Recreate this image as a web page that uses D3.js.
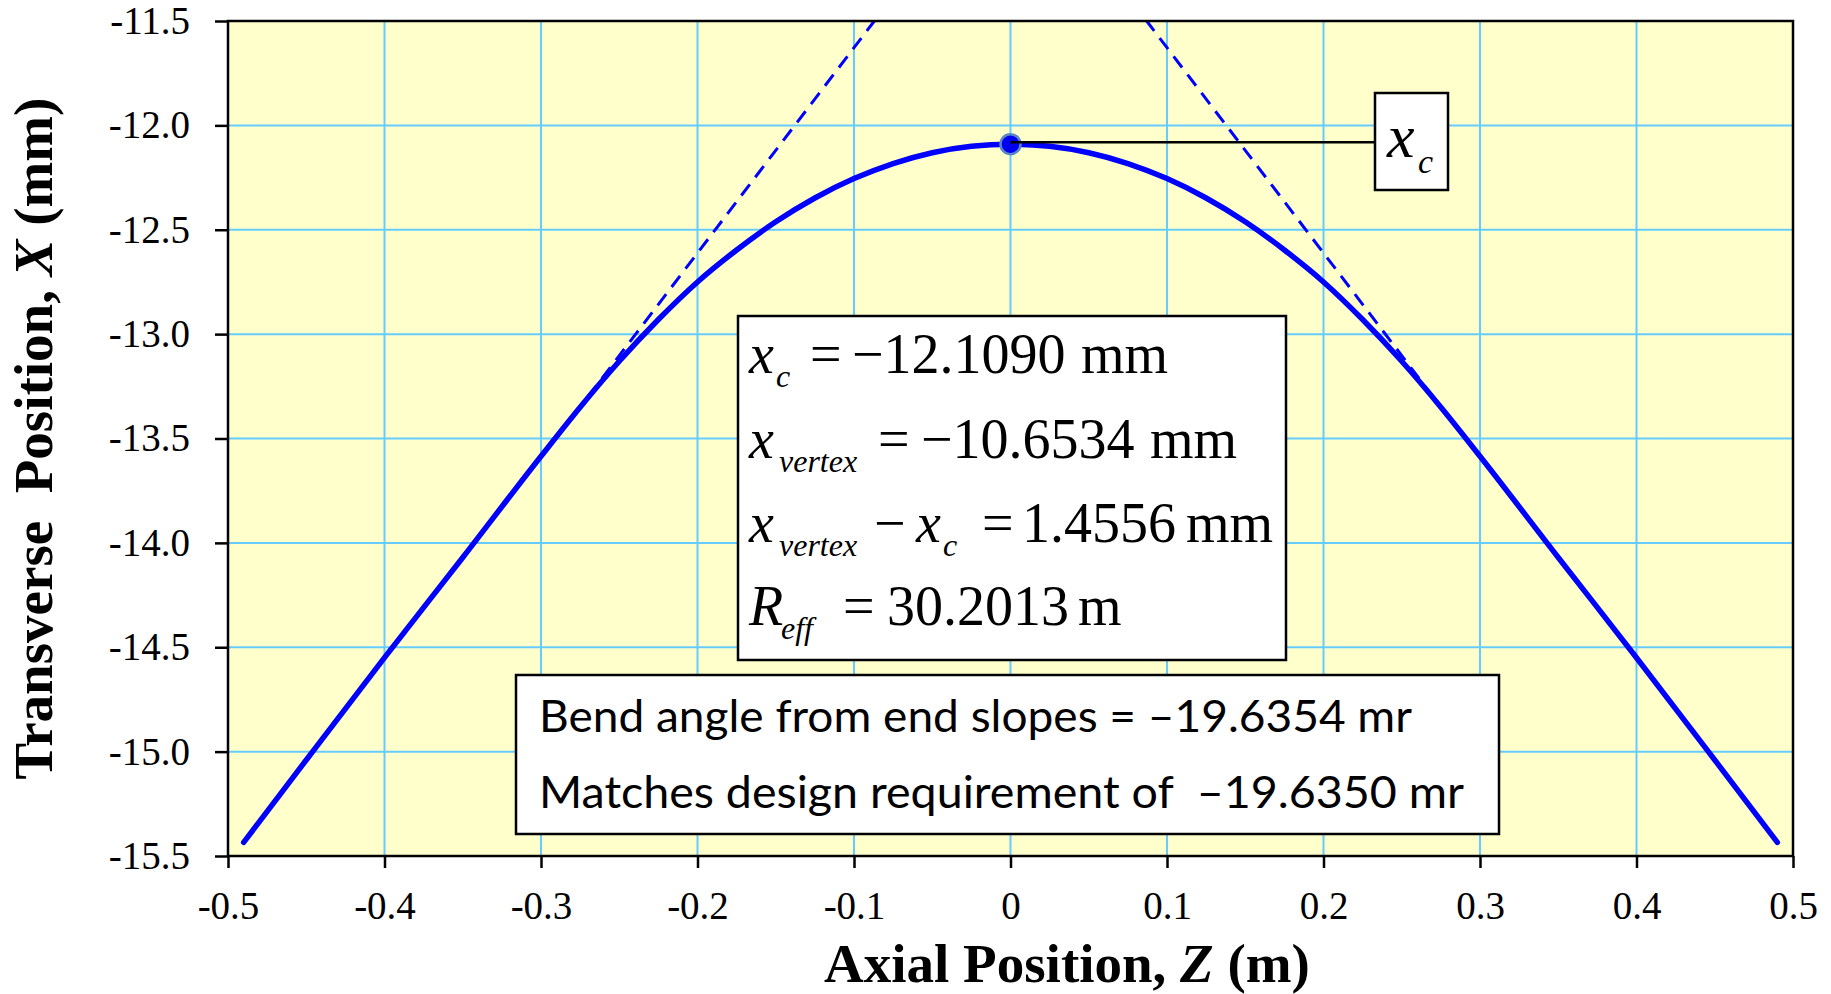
<!DOCTYPE html>
<html>
<head>
<meta charset="utf-8">
<script src="https://cdn.jsdelivr.net/npm/d3@7"></script>
<style>
  body { margin: 0; background: #fff; }
  svg { display: block; }
</style>
</head>
<body>
<svg id="chart" width="1831" height="994"></svg>
<script>
// axis ticks
const zTicks = [-0.5, -0.4, -0.3, -0.2, -0.1, 0, 0.1, 0.2, 0.3, 0.4, 0.5];
const xTicks = [-11.5, -12.0, -12.5, -13.0, -13.5, -14.0, -14.5, -15.0, -15.5];

// trajectory (z in m, x in mm)
const trajZ = [-0.49, -0.45, -0.40, -0.35, -0.30, -0.275, -0.25, -0.225, -0.20, -0.175, -0.15, -0.125, -0.10, -0.075, -0.05, -0.025,
  0, 0.025, 0.05, 0.075, 0.10, 0.125, 0.15, 0.175, 0.20, 0.225, 0.25, 0.275, 0.30, 0.35, 0.40, 0.45, 0.49];
const trajX = [-15.435, -15.04, -14.55, -14.07, -13.585, -13.35, -13.13, -12.93, -12.75, -12.597, -12.462, -12.348, -12.255, -12.183, -12.131, -12.100,
  -12.090, -12.100, -12.131, -12.183, -12.255, -12.348, -12.462, -12.597, -12.75, -12.93, -13.13, -13.35, -13.585, -14.07, -14.55, -15.04, -15.435];

// end-slope tangent lines (dashed)
const tangentLeft = [[-0.27, -13.30], [-0.087, -11.5]];
const tangentRight = [[0.27, -13.30], [0.087, -11.5]];

// x_c marker
const markerPoint = [0, -12.09];

const margin = { top: 21, right: 38, bottom: 138, left: 228 };
const W = 1831, H = 994;
const width = W - margin.left - margin.right;
const height = H - margin.top - margin.bottom;

const svg = d3.select("#chart");
const g = svg.append("g").attr("transform", `translate(${margin.left},${margin.top})`);

const x = d3.scaleLinear().domain([-0.5, 0.5]).range([0, width]);
const y = d3.scaleLinear().domain([-15.5, -11.5]).range([height, 0]);

const serif = "'Liberation Serif', 'Times New Roman', Times, serif";

// background
g.append("rect").attr("width", width).attr("height", height).attr("fill", "#ffffcc");

// grid
g.append("g").selectAll("line").data(zTicks).join("line")
  .attr("x1", d => x(d)).attr("x2", d => x(d))
  .attr("y1", 0).attr("y2", height)
  .attr("stroke", "#66ccff").attr("stroke-width", 2);
g.append("g").selectAll("line").data(xTicks).join("line")
  .attr("x1", 0).attr("x2", width)
  .attr("y1", d => y(d)).attr("y2", d => y(d))
  .attr("stroke", "#66ccff").attr("stroke-width", 2);

// trajectory
const pts = trajZ.map((z, i) => [z, trajX[i]]);
const line = d3.line().x(d => x(d[0])).y(d => y(d[1])).curve(d3.curveMonotoneX);
g.append("path").datum(pts).attr("d", line)
  .attr("fill", "none").attr("stroke", "#0000ff").attr("stroke-width", 5.5)
  .attr("stroke-linecap", "round").attr("stroke-linejoin", "round");

// tangents
const straight = d3.line().x(d => x(d[0])).y(d => y(d[1]));
[tangentLeft, tangentRight].forEach(t => {
  g.append("path").datum(t).attr("d", straight)
    .attr("fill", "none").attr("stroke", "#0000ff").attr("stroke-width", 3)
    .attr("stroke-dasharray", "14,9");
});

// axes
const yAxis = d3.axisLeft(y).tickValues(xTicks).tickSize(13).tickPadding(25);
const xAxis = d3.axisBottom(x).tickValues(zTicks).tickSize(12).tickPadding(23);

const ya = g.append("g").call(yAxis);
const xa = g.append("g").attr("transform", `translate(0,${height})`).call(xAxis);
[ya, xa].forEach(a => {
  a.select(".domain").remove();
  a.selectAll(".tick line").attr("stroke", "#000").attr("stroke-width", 2.5);
  a.selectAll(".tick text").attr("fill", "#000")
    .style("font-family", serif).style("font-size", "39px");
});
ya.selectAll(".tick text").text(d => d.toFixed(1));
xa.selectAll(".tick text").text(d => d === 0 ? "0" : d.toFixed(1));

// plot frame
g.append("rect").attr("width", width).attr("height", height)
  .attr("fill", "none").attr("stroke", "#000").attr("stroke-width", 2.5);

// marker + leader
const mx = x(markerPoint[0]), my = y(markerPoint[1]);
g.append("circle").attr("cx", mx).attr("cy", my).attr("r", 10)
  .attr("fill", "#0000ee").attr("stroke", "#5a86c8").attr("stroke-width", 2.5);
const lblBox = { x: 1375 - margin.left, y: 93 - margin.top, w: 73, h: 97 };
g.append("line").attr("x1", mx).attr("x2", lblBox.x).attr("y1", my - 2).attr("y2", my - 2)
  .attr("stroke", "#000").attr("stroke-width", 2.5);
g.append("rect").attr("x", lblBox.x).attr("y", lblBox.y).attr("width", lblBox.w).attr("height", lblBox.h)
  .attr("fill", "#fff").attr("stroke", "#000").attr("stroke-width", 2.5);

// text pieces helper (absolute svg coords)
function piece(px, py, str, size, italic) {
  svg.append("text").attr("x", px).attr("y", py).text(str)
    .style("font-family", serif).style("font-size", size + "px")
    .style("font-style", italic ? "italic" : "normal")
    .attr("fill", "#000").attr("xml:space", "preserve");
}
piece(1387, 157, "x", 62, true);
piece(1418, 173, "c", 34, true);

// equation box
svg.append("rect").attr("x", 738).attr("y", 316).attr("width", 548).attr("height", 344)
  .attr("fill", "#fff").attr("stroke", "#000").attr("stroke-width", 2.5);
const F = 56, S = 32;
piece(749, 373, "x", F, true); piece(776, 387, "c", S, true);
piece(810, 373, "=", F, false); piece(852, 373, "\u221212.1090", F, false); piece(1081, 373, "mm", F, false);

piece(749, 458, "x", F, true); piece(779, 472, "vertex", S, true);
piece(878, 458, "=", F, false); piece(921, 458, "\u221210.6534", F, false); piece(1150, 458, "mm", F, false);

piece(749, 542, "x", F, true); piece(779, 556, "vertex", S, true);
piece(874, 542, "\u2212", F, false); piece(916, 542, "x", F, true); piece(943, 556, "c", S, true);
piece(982, 542, "=", F, false); piece(1022, 542, "1.4556", F, false); piece(1186, 542, "mm", F, false);

piece(749, 625, "R", F, true); piece(781, 639, "eff", S, true);
piece(843, 625, "=", F, false); piece(887, 625, "30.2013", F, false); piece(1078, 625, "m", F, false);

// bend-angle box
svg.append("rect").attr("x", 516).attr("y", 675).attr("width", 983).attr("height", 159)
  .attr("fill", "#fff").attr("stroke", "#000").attr("stroke-width", 2.5);
const sans = "Lato, 'Noto Sans', 'Liberation Sans', sans-serif";
svg.append("text").attr("x", 539).attr("y", 732).attr("xml:space", "preserve")
  .attr("textLength", 873).attr("lengthAdjust", "spacingAndGlyphs")
  .style("font-family", sans).style("font-size", "44px").attr("fill", "#000")
  .text("Bend angle from end slopes = \u201319.6354 mr");
svg.append("text").attr("x", 539).attr("y", 808).attr("xml:space", "preserve")
  .attr("textLength", 925).attr("lengthAdjust", "spacingAndGlyphs")
  .style("font-family", sans).style("font-size", "44px").attr("fill", "#000")
  .text("Matches design requirement of  \u201319.6350 mr");

// axis titles
const xt = svg.append("text").attr("x", 1067).attr("y", 982).attr("text-anchor", "middle")
  .style("font-family", serif).style("font-size", "55px").style("font-weight", "bold").attr("fill", "#000");
xt.append("tspan").text("Axial Position, ");
xt.append("tspan").style("font-style", "italic").text("Z");
xt.append("tspan").text(" (m)");

const yt = svg.append("text").attr("transform", `translate(52,${margin.top + height / 2}) rotate(-90)`)
  .attr("text-anchor", "middle").attr("xml:space", "preserve")
  .style("font-family", serif).style("font-size", "55px").style("font-weight", "bold").attr("fill", "#000");
yt.append("tspan").text("Transverse  Position, ");
yt.append("tspan").style("font-style", "italic").text("X");
yt.append("tspan").text(" (mm)");
</script>
</body>
</html>
